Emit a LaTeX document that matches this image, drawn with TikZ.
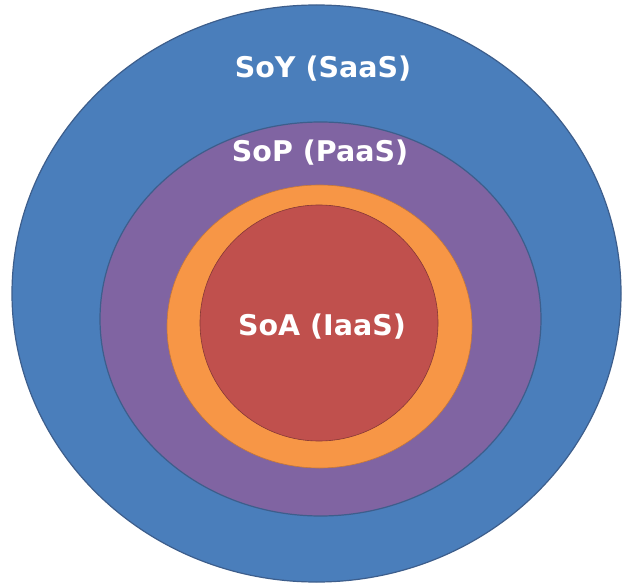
\documentclass[tikz,border=0pt]{standalone}
\usepackage{fontspec}
\setmainfont{DejaVu Sans}
\definecolor{cblue}{HTML}{4A7EBB}
\definecolor{cpurple}{HTML}{8064A2}
\definecolor{corange}{HTML}{F79646}
\definecolor{cred}{HTML}{C0504D}
\definecolor{cedge}{HTML}{3D5E8C}
\begin{document}
\begin{tikzpicture}[x=1pt,y=-1pt,
  ring/.style={draw=cedge,line width=1.2pt},
  lbl/.style={text=white,font=\fontsize{28.5}{32}\selectfont\bfseries,inner sep=0pt,anchor=base}]
\useasboundingbox (0,0) rectangle (623,585);
\fill[white] (0,0) rectangle (623,585);
\filldraw[ring,fill=cblue] (316.5,293.5) ellipse [x radius=304.5, y radius=288.5];
\filldraw[ring,fill=cpurple] (320.5,319) ellipse [x radius=220.5, y radius=197];
\filldraw[ring,draw=corange!80!black,line width=0.6pt,fill=corange] (319.5,326.5) ellipse [x radius=152.5, y radius=141.5];
\filldraw[ring,draw=cred!70!black,line width=0.6pt,fill=cred] (319,323) ellipse [x radius=119, y radius=118];
\node[lbl] (soy) at (323,78) {SoY (SaaS)};
\node[lbl] (sop) at (320,162) {SoP (PaaS)};
\node[lbl] (soa) at (322,335) {SoA (IaaS)};
\end{tikzpicture}
\end{document}
